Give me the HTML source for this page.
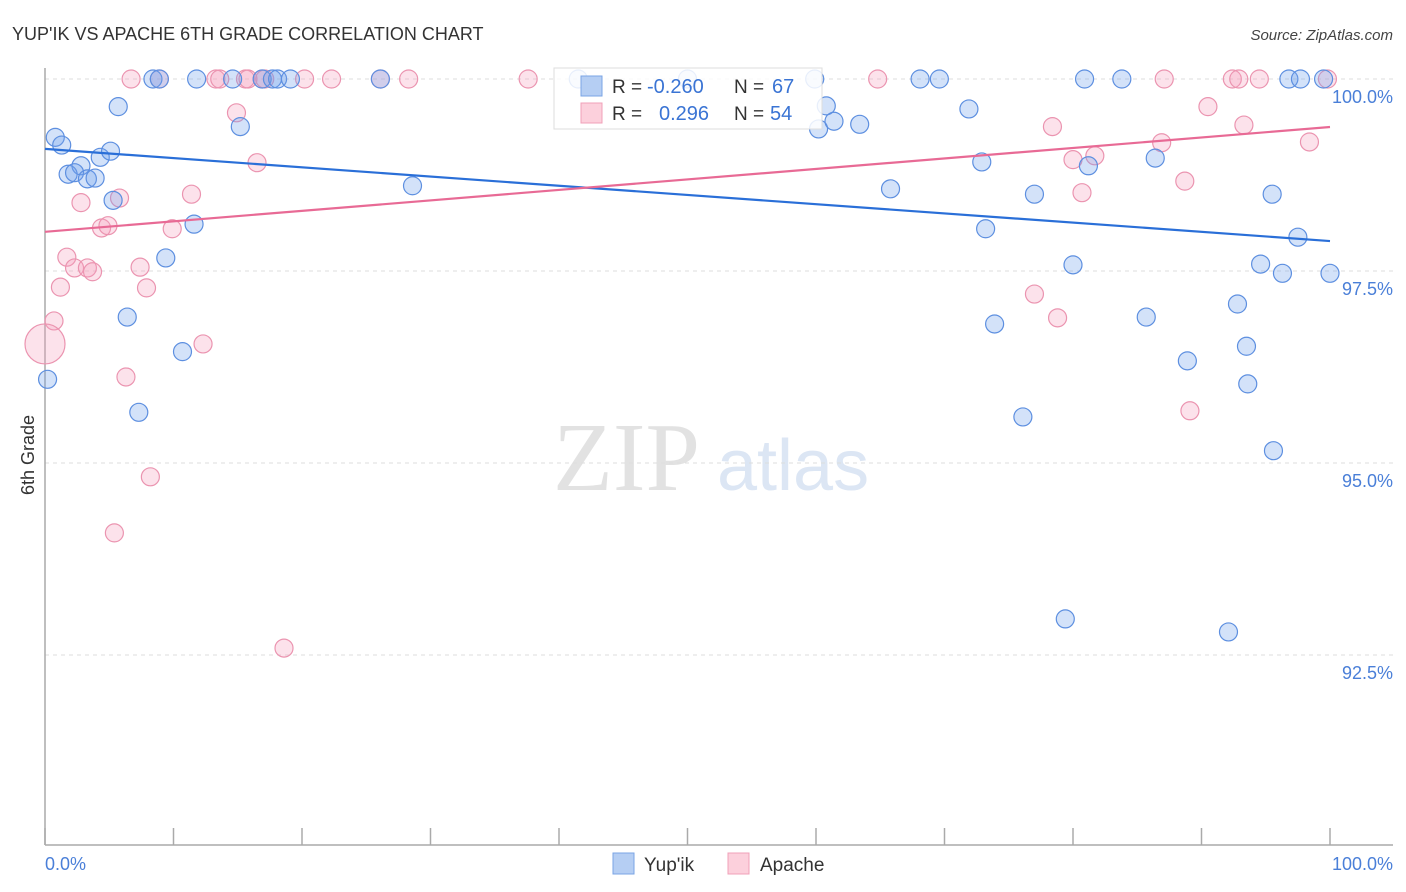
<!DOCTYPE html>
<html><head><meta charset="utf-8"><style>
html,body{margin:0;padding:0;background:#fff;}
svg{display:block;font-family:"Liberation Sans",sans-serif;}
</style></head><body>
<svg id="chart" width="1406" height="892" viewBox="0 0 1406 892">
<text x="12" y="40" font-size="18" fill="#333">YUP'IK VS APACHE 6TH GRADE CORRELATION CHART</text>
<text x="1393" y="40" font-size="15" fill="#444" font-style="italic" text-anchor="end">Source: ZipAtlas.com</text>
<g>
<text x="553" y="490" font-size="98" font-family="Liberation Serif,serif" fill="#e2e2e2">ZIP</text>
<text x="717" y="490" font-size="72" fill="#dce6f4">atlas</text>
</g>
<g id="grid"></g>
<line x1="45" y1="68" x2="45" y2="845" stroke="#aaa" stroke-width="1.5"/>
<line x1="45" y1="845" x2="1393" y2="845" stroke="#aaa" stroke-width="1.5"/>
<g id="xticks"></g>
<text x="45" y="870" font-size="18" fill="#4a7fd8">0.0%</text>
<text x="1393" y="870" font-size="18" fill="#4a7fd8" text-anchor="end">100.0%</text>
<text transform="translate(34,455) rotate(-90)" font-size="18" fill="#333" text-anchor="middle">6th Grade</text>
<g id="points"></g>
<g id="trends"></g>
<g>
<rect x="554" y="68" width="268" height="61" fill="rgba(255,255,255,0.85)" stroke="#ddd"/>
<rect x="581" y="76" width="21" height="20" fill="#b5cef3" stroke="#7aa4e4"/>
<rect x="581" y="103" width="21" height="20" fill="#fcd0dc" stroke="#f0a0b8"/>
<text x="612" y="93" font-size="19" fill="#333">R =</text>
<text x="647" y="93" font-size="20" fill="#3a74d4">-0.260</text>
<text x="734" y="93" font-size="19" fill="#333">N =</text>
<text x="772" y="93" font-size="20" fill="#3a74d4">67</text>
<text x="612" y="120" font-size="19" fill="#333">R =</text>
<text x="659" y="120" font-size="20" fill="#3a74d4">0.296</text>
<text x="734" y="120" font-size="19" fill="#333">N =</text>
<text x="770" y="120" font-size="20" fill="#3a74d4">54</text>
</g>
<g>
<rect x="613" y="853" width="21" height="21" fill="#b5cef3" stroke="#7aa4e4"/>
<text x="644" y="871" font-size="19" fill="#333">Yup'ik</text>
<rect x="728" y="853" width="21" height="21" fill="#fcd0dc" stroke="#f0a0b8"/>
<text x="760" y="871" font-size="19" fill="#333">Apache</text>
</g>
</svg>
<script>
const yTicks=[100,97.5,95,92.5];
const yTickLabels=["100.0%","97.5%","95.0%","92.5%"];
const blueX=[8.4,8.9,11.8,14.6,16.9,17.7,18.1,19.1,26.1,41.5,50.0,59.9,68.1,69.6,80.9,83.8,96.8,97.7,99.5,
5.7,0.8,1.3,2.8,1.8,2.3,3.3,3.9,4.3,5.1,5.3,11.6,9.4,15.2,6.4,10.7,7.3,0.2,28.6,60.8,60.2,61.4,63.4,65.8,71.9,72.9,73.2,73.9,76.1,77.0,79.4,80.0,81.2,85.7,86.4,88.9,92.1,92.8,93.5,93.6,94.6,95.5,95.6,96.3,97.5,100];
const blueY=[100,100,100,100,100,100,100,100,100,100,100,100,100,100,100,100,100,100,100,
99.64,99.24,99.14,98.87,98.76,98.78,98.70,98.71,98.98,99.06,98.42,98.11,97.67,99.38,96.90,96.45,95.66,96.09,98.61,99.65,99.35,99.45,99.41,98.57,99.61,98.92,98.05,96.81,95.60,98.50,92.97,97.58,98.87,96.90,98.97,96.33,92.80,97.07,96.52,96.03,97.59,98.50,95.16,97.47,97.94,97.47];
const pinkX=[6.7,8.9,13.3,13.6,15.6,15.8,16.9,17.1,20.2,22.3,26.1,28.3,37.6,64.8,87.1,92.4,92.9,94.5,99.8,
14.9,16.5,2.8,5.8,11.4,4.4,4.9,9.9,1.7,1.2,2.3,3.3,3.7,7.4,7.9,0.7,12.3,6.3,8.2,5.4,18.6,90.5,78.4,93.3,86.9,98.4,80.0,81.7,88.7,80.7,77.0,78.8,89.1];
const pinkY=[100,100,100,100,100,100,100,100,100,100,100,100,100,100,100,100,100,100,100,
99.56,98.91,98.39,98.45,98.50,98.06,98.09,98.05,97.68,97.29,97.54,97.54,97.49,97.55,97.28,96.85,96.55,96.12,94.82,94.09,92.59,99.64,99.38,99.40,99.17,99.18,98.95,99.00,98.67,98.52,97.20,96.89,95.68];
const pinkBigX=[0];
const pinkBigY=[96.55];
const blueTrend=[99.09,97.89];
const pinkTrend=[98.01,99.375];

const NS="http://www.w3.org/2000/svg";
function xs(v){return 45+v*12.85;}
function ys(v){return 79+(100-v)*76.8;}
function mk(tag,attrs,parent){const e=document.createElementNS(NS,tag);for(const k in attrs)e.setAttribute(k,attrs[k]);parent.appendChild(e);return e;}

const grid=document.getElementById('grid');
yTicks.forEach((t,i)=>{
  const l=mk('line',{x1:45,x2:1393,y1:ys(t),y2:ys(t),stroke:'#ddd','stroke-dasharray':'4,4'},grid);
  
  
  const tx=mk('text',{x:1393,y:ys(t)+24,'font-size':18,fill:'#4a7fd8','text-anchor':'end'},grid);
  tx.textContent=yTickLabels[i];
  
  
});
const xt=document.getElementById('xticks');
for(let k=0;k<=10;k++){
  const l=mk('line',{x1:xs(k*10),x2:xs(k*10),y1:828,y2:845,stroke:'#aaa','stroke-width':1.5},xt);
  
  
}
const pts=document.getElementById('points');
function dots(X,Y,r,fill,stroke,name){
  X.forEach((x,i)=>{
    const c=mk('circle',{cx:xs(x),cy:ys(Y[i]),r:r,fill:fill,stroke:stroke,'stroke-width':1.2},pts);
    
    
  });
}
dots(pinkX,pinkY,9,'rgba(246,160,188,0.3)','#eb94b0','apache-point');
dots(pinkBigX,pinkBigY,20,'rgba(246,160,188,0.3)','#eb94b0','apache-point');
dots(blueX,blueY,9,'rgba(110,160,235,0.3)','#5d8fe0','yupik-point');
const tr=document.getElementById('trends');
const bl=mk('line',{x1:xs(0),y1:ys(blueTrend[0]),x2:xs(100),y2:ys(blueTrend[1]),stroke:'#2a6fd8','stroke-width':2.2},tr);


const pl=mk('line',{x1:xs(0),y1:ys(pinkTrend[0]),x2:xs(100),y2:ys(pinkTrend[1]),stroke:'#e86a95','stroke-width':2.2},tr);


</script>
</body></html>
